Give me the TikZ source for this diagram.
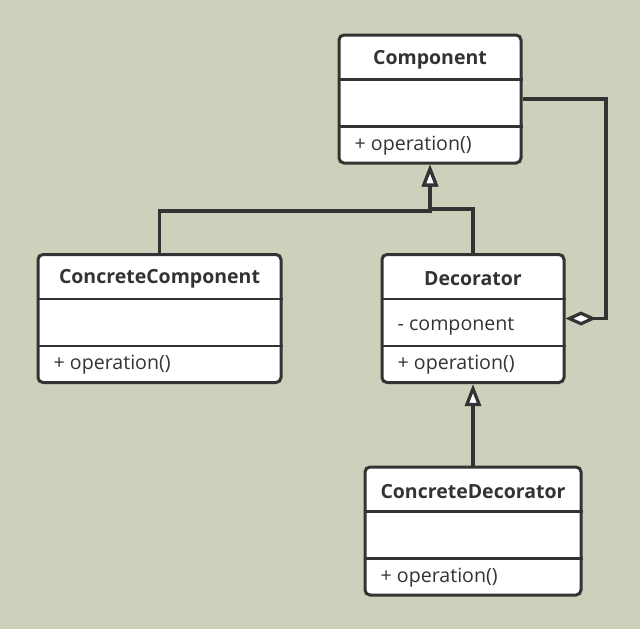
\documentclass[tikz,border=0pt]{standalone}
\usepackage{fontspec}
\setmainfont{Open Sans}
\usepackage{tikz}
\usetikzlibrary{arrows.meta,calc,positioning}
\definecolor{bgolive}{RGB}{204,209,187}
\definecolor{ink}{RGB}{51,51,51}

% one UML class box: name, centre x, centre y, width, title, attribute
\newcommand{\umlclass}[6]{%
  \node[classbox,minimum width=#4pt] (#1) at (#2,#3) {};
  \draw[divider] ([yshift=-46pt]#1.north west) -- ([yshift=-46pt]#1.north east);
  \draw[divider] ([yshift=-93pt]#1.north west) -- ([yshift=-93pt]#1.north east);
  \node[titletext] (#1-title) at ([yshift=-26pt]#1.north) {#5};
  \node[membertext] (#1-attr) at ([xshift=16pt,yshift=-73pt]#1.north west) {#6};
  \node[membertext] (#1-op) at ([xshift=16pt,yshift=-112pt]#1.north west) {+ operation()};
}

\begin{document}
\begin{tikzpicture}[
    x=1pt, y=-1pt,
    every node/.style={font=\fontsize{19.6}{23}\selectfont, text=ink},
    classbox/.style={draw=ink,fill=white,line width=3pt,rounded corners=5pt,
                     minimum height=128pt,inner sep=0pt},
    divider/.style={draw=ink,line width=2.6pt},
    titletext/.style={font=\fontsize{19.5}{23}\selectfont\bfseries},
    membertext/.style={anchor=west,inner sep=1pt},
    link/.style={draw=ink,line width=3.2pt},
    inherit/.style={link,-{Triangle[length=22pt,width=16pt,fill=white]}},
    aggr/.style={link,-{Diamond[length=31pt,width=14pt,fill=white]}}
]
% page and background
\useasboundingbox (0,0) rectangle (640,629);
\fill[bgolive] (0,0) rectangle (640,629);

% class boxes
\umlclass{comp}{430}{99}{182}{Component}{}
\umlclass{concomp}{159.5}{318.5}{243}{ConcreteComponent}{}
\umlclass{deco}{473}{318.5}{182}{Decorator}{- component}
\umlclass{condeco}{473}{531}{216}{ConcreteDecorator}{}

% bend points of the connectors
\coordinate (bus) at (430,211);
\coordinate (aggcorner) at (606,99);

% generalisations
\draw[inherit] (concomp.north) |- (bus) -- (comp.south);
\draw[inherit] (deco.north) |- ([yshift=2pt]bus) -- (comp.south);
\draw[inherit] (condeco.north) -- (deco.south);

% aggregation Decorator -> Component
\draw[aggr] (comp.east) -- (aggcorner) |- (deco.east);
\end{tikzpicture}
\end{document}
